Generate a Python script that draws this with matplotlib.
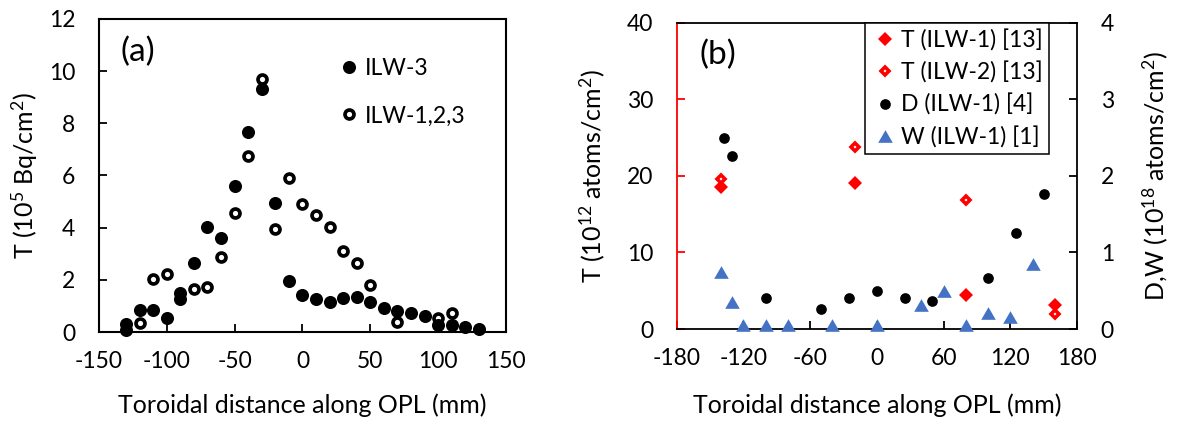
import matplotlib
matplotlib.use("Agg")
import matplotlib.pyplot as plt
from matplotlib.path import Path
from matplotlib.lines import Line2D

plt.rcParams['font.family'] = ['Lato', 'DejaVu Sans']
plt.rcParams['mathtext.fontset'] = 'custom'
plt.rcParams['mathtext.rm'] = 'Lato'
plt.rcParams['mathtext.it'] = 'Lato:italic'
plt.rcParams['mathtext.bf'] = 'Lato:bold'
plt.rcParams['axes.unicode_minus'] = False

# ---------------- Panel (a) data ----------------
x_ilw3 = [-130, -130, -120, -110, -100, -90, -90, -80, -70, -60, -50, -40, -30, -20, -10,
          0, 10, 20, 30, 40, 50, 60, 70, 80, 90, 100, 110, 120, 130]
t_ilw3 = [0.30, 0.08, 0.84, 0.84, 0.52, 1.50, 1.27, 2.63, 4.02, 3.60, 5.60, 7.68, 9.30, 4.93, 1.95,
          1.40, 1.25, 1.16, 1.29, 1.33, 1.14, 0.93, 0.80, 0.72, 0.60, 0.27, 0.27, 0.20, 0.10]

x_ilw123 = [-120, -110, -100, -80, -70, -60, -50, -40, -30, -20, -10, 0, 10, 20, 30, 40, 50, 70, 100, 110]
t_ilw123 = [0.33, 2.02, 2.22, 1.64, 1.71, 2.87, 4.57, 6.76, 9.69, 3.93, 5.92, 4.90, 4.48, 4.03, 3.10,
            2.66, 1.82, 0.37, 0.53, 0.72]

xticks_a = [-150, -100, -50, 0, 50, 100, 150]
yticks_a = [0, 2, 4, 6, 8, 10, 12]

# ---------------- Panel (b) data ----------------
x_t1 = [-140, -20, 80, 160]
t_t1 = [18.5, 19.1, 4.4, 3.1]
x_t2 = [-140, -20, 80, 160]
t_t2 = [19.6, 23.8, 16.9, 2.0]
x_d = [-137, -130, -100, -50, -25, 0, 25, 50, 100, 125, 150]
v_d = [2.50, 2.26, 0.40, 0.26, 0.40, 0.50, 0.40, 0.37, 0.66, 1.25, 1.76]
x_w = [-140, -130, -120, -100, -80, -40, 0, 40, 60, 80, 100, 120, 140]
v_w = [0.75, 0.35, 0.05, 0.05, 0.05, 0.05, 0.05, 0.32, 0.50, 0.05, 0.21, 0.16, 0.85]

xticks_b = [-180, -120, -60, 0, 60, 120, 180]
yticks_b = [0, 10, 20, 30, 40]
yticks_b2 = [0, 1, 2, 3, 4]

RED = '#FF0000'
BLUE = '#4472C4'
TICK_FS = 16.5
LABEL_FS = 18
PANEL_FS = 24
XLABEL = 'Toroidal distance along OPL (mm)'

tri = Path([(-1, -0.866), (1, -0.866), (0, 0.866), (-1, -0.866)],
           [Path.MOVETO, Path.LINETO, Path.LINETO, Path.CLOSEPOLY])

fig = plt.figure(figsize=(11.78, 4.21), dpi=100)

# ===================== Panel (a) =====================
ax = fig.add_axes([0.0840, 0.2114, 0.3455, 0.7435])
ax.plot(x_ilw123, t_ilw123, linestyle='none', marker='o', ms=6.45, mew=2.65,
        mfc='white', mec='black', clip_on=False, zorder=3, label='ILW-1,2,3')
ax.plot(x_ilw3, t_ilw3, linestyle='none', marker='o', ms=9.4, mew=0,
        mfc='black', clip_on=False, zorder=4, label='ILW-3')
ax.set_xlim(-150, 150)
ax.set_ylim(0, 12)
ax.set_xticks(xticks_a)
ax.set_yticks(yticks_a)
ax.tick_params(axis='both', direction='in', length=6, width=1.3, labelsize=TICK_FS)
ax.tick_params(axis='y', pad=17)
ax.tick_params(axis='x', pad=14)
for s in ax.spines.values():
    s.set_linewidth(1.5)
ax.set_ylabel('T (10$^5$ Bq/cm$^2$)', fontsize=LABEL_FS)
ax.yaxis.set_label_coords(-0.145, 0.5)
ax.set_xlabel(XLABEL, fontsize=LABEL_FS)
ax.xaxis.set_label_coords(0.5, -0.195)
ax.text(0.096, 0.895, '(a)', transform=ax.transAxes, fontsize=PANEL_FS, ha='center', va='center')
h_a = [Line2D([], [], linestyle='none', marker='o', ms=9.4, mew=0, mfc='black'),
       Line2D([], [], linestyle='none', marker='o', ms=6.45, mew=2.65, mfc='white', mec='black')]
ax.legend(h_a, ['ILW-3', 'ILW-1,2,3'], loc='upper left', bbox_to_anchor=(0.592, 0.875),
          frameon=False, fontsize=TICK_FS, borderpad=0, borderaxespad=0,
          handlelength=0.8, handletextpad=0.28, labelspacing=1.15)

# ===================== Panel (b) =====================
bx = fig.add_axes([0.5744, 0.2185, 0.3399, 0.7276])
bx.plot(x_t1, t_t1, linestyle='none', marker='D', ms=6.9, mew=0, mfc=RED,
        clip_on=False, zorder=3)
bx.plot(x_t2, t_t2, linestyle='none', marker='D', ms=4.25, mew=2.55, mfc='white', mec=RED,
        clip_on=False, zorder=3)
bx.set_xlim(-180, 180)
bx.set_ylim(0, 40)
bx.set_xticks(xticks_b)
bx.set_yticks(yticks_b)
bx.tick_params(axis='x', direction='in', length=5.5, width=1.3, labelsize=TICK_FS, pad=14)
bx.tick_params(axis='y', direction='in', length=6, width=1.3, labelsize=TICK_FS, pad=17,
               color=RED, labelcolor='black')
for s in bx.spines.values():
    s.set_linewidth(1.3)
bx.spines['left'].set_color(RED)
bx.spines['right'].set_visible(False)
bx.set_ylabel('T (10$^{12}$ atoms/cm$^2$)', fontsize=LABEL_FS)
bx.yaxis.set_label_coords(-0.174, 0.5)
bx.set_xlabel(XLABEL, fontsize=LABEL_FS)
bx.xaxis.set_label_coords(0.5, -0.209)

bx2 = bx.twinx()
bx2.set_position([0.5744, 0.2185, 0.3399, 0.7276])
bx2.plot(x_d, v_d, linestyle='none', marker='o', ms=7.7, mew=0, mfc='black',
         clip_on=False, zorder=3)
bx2.plot(x_w, v_w, linestyle='none', marker=tri, ms=10.5, mew=0, mfc=BLUE,
         clip_on=False, zorder=3)
bx2.set_ylim(0, 4)
bx2.set_yticks(yticks_b2)
bx2.tick_params(axis='y', direction='in', length=6, width=1.3, labelsize=TICK_FS, pad=17)
bx2.spines['left'].set_visible(False)
bx2.spines['top'].set_visible(False)
bx2.spines['bottom'].set_visible(False)
bx2.spines['right'].set_linewidth(1.3)
bx2.set_ylabel('D,W (10$^{18}$ atoms/cm$^2$)', fontsize=LABEL_FS)
bx2.yaxis.set_label_coords(1.157, 0.5)
bx.text(0.102, 0.895, '(b)', transform=bx.transAxes, fontsize=PANEL_FS, ha='center', va='center')

h_b = [Line2D([], [], linestyle='none', marker='D', ms=6.9, mew=0, mfc=RED),
       Line2D([], [], linestyle='none', marker='D', ms=4.25, mew=2.55, mfc='white', mec=RED),
       Line2D([], [], linestyle='none', marker='o', ms=7.7, mew=0, mfc='black'),
       Line2D([], [], linestyle='none', marker=tri, ms=10.5, mew=0, mfc=BLUE)]
leg = bx2.legend(h_b, ['T (ILW-1) [13]', 'T (ILW-2) [13]', 'D (ILW-1) [4]', 'W (ILW-1) [1]'],
                 loc='upper left', bbox_to_anchor=(0.470, 0.998), fontsize=TICK_FS,
                 borderpad=0.25, borderaxespad=0, handlelength=1.3, handletextpad=0.05,
                 labelspacing=0.45, fancybox=False, framealpha=1, edgecolor='black')
leg.get_frame().set_linewidth(1.1)

fig.savefig('out.png', dpi=100)
